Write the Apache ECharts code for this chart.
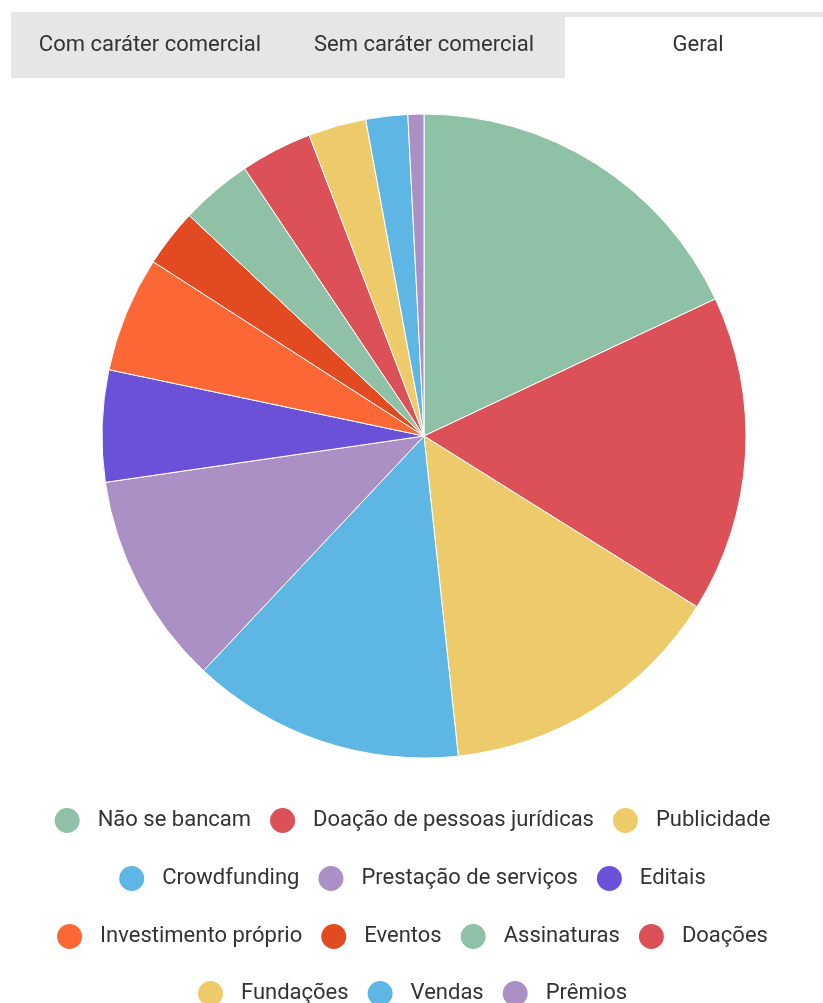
<!DOCTYPE html>
<html>
<head>
<meta charset="utf-8">
<script src="https://cdn.jsdelivr.net/npm/echarts@6/dist/echarts.min.js"></script>
<style>
  body { margin: 0; background: #fff; font-family: Roboto, sans-serif; }
  #tabs { position: absolute; left: 11px; top: 12px; width: 812px; height: 66px; background: #e6e6e6; }
  .tab { position: absolute; top: 0; height: 66px; line-height: 64px; text-align: center; font-size: 22px; color: #333; }
  .tab.active { background: #fff; top: 5px; height: 61px; line-height: 54px; }
  #chart { position: absolute; left: 0; top: 0; width: 823px; height: 1003px; }
</style>
</head>
<body>
<div id="chart"></div>
<div id="tabs">
  <div class="tab" style="left:14px;width:250px;">Com caráter comercial</div>
  <div class="tab" style="left:288px;width:250px;">Sem caráter comercial</div>
  <div class="tab active" style="left:554px;width:266px;">Geral</div>
</div>
<script>
// fatias do gráfico "Geral" (percentual)
const categories = [
  "Não se bancam", "Doação de pessoas jurídicas", "Publicidade",
  "Crowdfunding", "Prestação de serviços", "Editais",
  "Investimento próprio", "Eventos", "Assinaturas", "Doações",
  "Fundações", "Vendas", "Prêmios"
];
const values = [18.0, 15.9, 14.4, 13.7, 10.7, 5.6, 5.8, 2.9, 3.6, 3.6, 2.9, 2.1, 0.8];
const colors = [
  "#8fc1a7", "#db5157", "#eecb6a", "#5eb6e4", "#ab90c5", "#6b51d8",
  "#fc6736", "#e24b22", "#8fc1a7", "#db5157", "#eecb6a", "#5eb6e4", "#ab90c5"
];
// linhas da legenda (cada linha centralizada)
const legendRows = [
  categories.slice(0, 3),
  categories.slice(3, 6),
  categories.slice(6, 10),
  categories.slice(10)
];
const legendTops = [801, 859, 917, 974];

const chart = echarts.init(document.getElementById("chart"));

chart.setOption({
  animation: false,
  color: colors,
  legend: legendRows.map((row, i) => ({
    data: row,
    left: "center",
    top: legendTops[i],
    icon: "circle",
    itemWidth: 27,
    itemHeight: 27,
    itemGap: 17,
    textStyle: {
      fontFamily: "Roboto",
      fontSize: 22,
      color: "#333",
      padding: [0, 0, 0, 12]
    }
  })),
  series: [
    {
      type: "pie",
      center: [424, 436],
      radius: 322,
      startAngle: 90,
      clockwise: true,
      label: { show: false },
      labelLine: { show: false },
      itemStyle: { borderColor: "#fff", borderWidth: 1 },
      data: categories.map((name, i) => ({ name: name, value: values[i] }))
    }
  ]
});
</script>
</body>
</html>
